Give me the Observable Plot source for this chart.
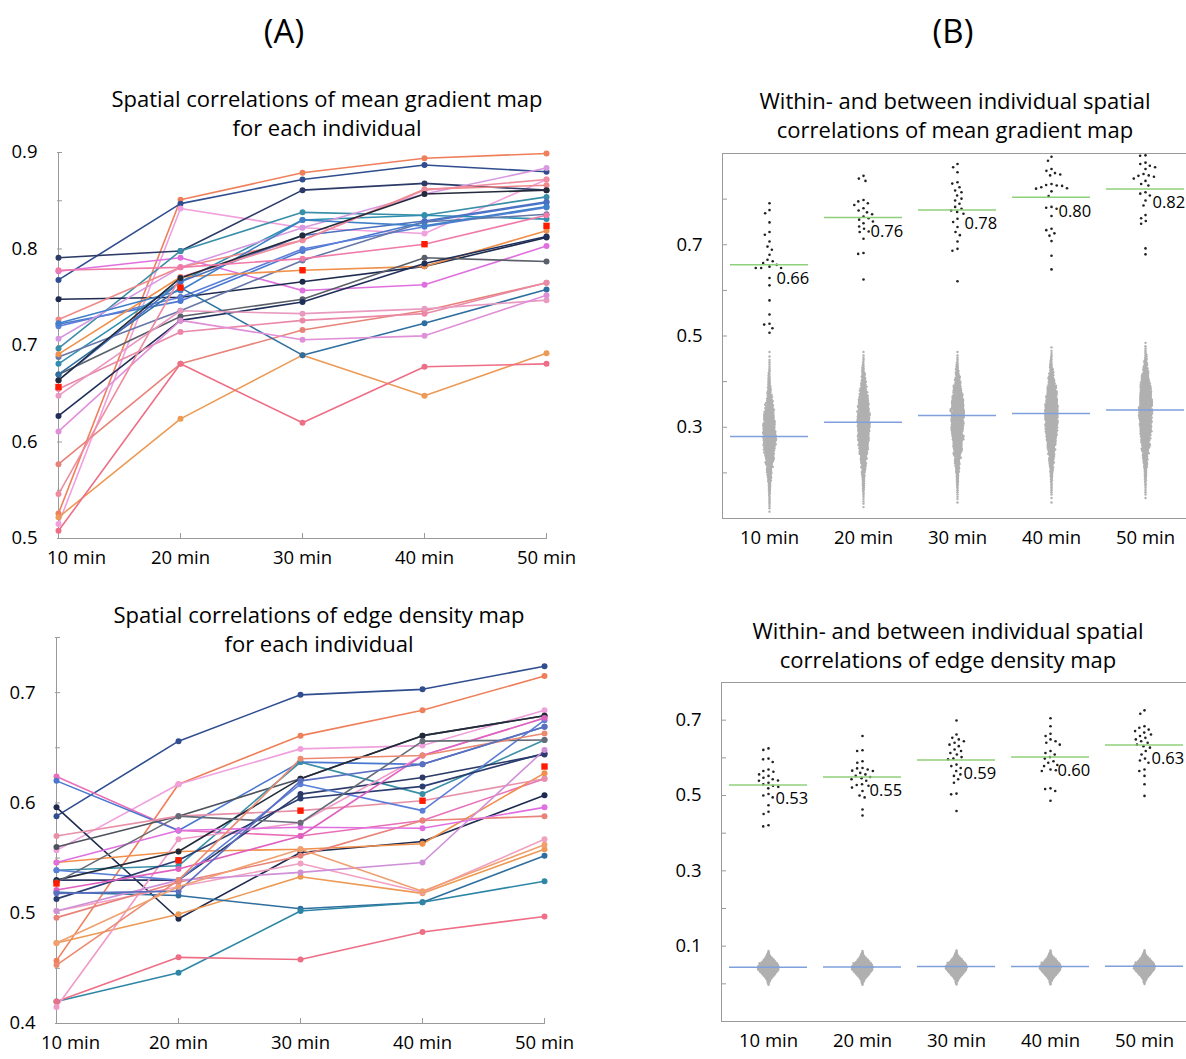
<!DOCTYPE html>
<html><head><meta charset="utf-8">
<script src="https://cdn.jsdelivr.net/npm/d3@7"></script>
<script src="https://cdn.jsdelivr.net/npm/@observablehq/plot@0.6"></script>
<style>
html,body{margin:0;padding:0;background:#fff;overflow:hidden;width:1186px;height:1059px}
#root{position:relative;width:1186px;height:1059px;overflow:hidden;font-family:"Open Sans",sans-serif;background:#fff}
.t{position:absolute;transform:translate(-50%,-50%);white-space:nowrap;color:#000;font-size:22px;line-height:1}
.p{position:absolute}
.p svg{max-width:none !important}
</style></head><body><div id="root"></div>
<script>
// ---------- data ----------
const times = ["10 min","20 min","30 min","40 min","50 min"];

// (A) top: spatial correlations of mean gradient map, per individual
const gradSeries = [
  [0.526,0.851,0.879,0.894,0.899],[0.768,0.847,0.872,0.887,0.880],[0.515,0.842,0.822,0.816,0.872],
  [0.791,0.798,0.861,0.868,0.861],[0.777,0.791,0.757,0.763,0.803],[0.697,0.798,0.838,0.835,0.854],
  [0.748,0.750,0.766,0.782,0.812],[0.722,0.746,0.798,0.828,0.848],[0.720,0.750,0.800,0.823,0.843],
  [0.681,0.766,0.830,0.835,0.831],[0.688,0.736,0.788,0.828,0.836],[0.691,0.771,0.778,0.782,0.819],
  [0.670,0.730,0.748,0.791,0.787],[0.627,0.726,0.745,0.785,0.813],[0.577,0.681,0.716,0.736,0.765],
  [0.522,0.624,0.690,0.648,0.692],[0.508,0.681,0.620,0.678,0.681],[0.670,0.760,0.690,0.723,0.758],
  [0.655,0.714,0.726,0.733,0.765],[0.648,0.736,0.733,0.738,0.747],[0.611,0.726,0.706,0.710,0.752],
  [0.707,0.781,0.822,0.857,0.884],[0.727,0.781,0.809,0.862,0.866],[0.664,0.766,0.814,0.829,0.849],
  [0.723,0.757,0.830,0.824,0.844],[0.546,0.771,0.809,0.861,0.872],[0.664,0.770,0.814,0.857,0.861],
  [0.778,0.781,0.790,0.805,0.835]
];
const gradColors = ["#ef7f5a","#2f4d8f","#f0a0dc","#2b3a67","#e070e0","#3a8fa8","#1e2b4f","#4a78d0","#5b7fd8",
  "#2e8fb0","#6677a8","#f0904a","#5a5f6a","#1f2f5a","#e8837a","#ec9a55","#ee6e86","#2f6f9f","#ea88a8",
  "#e89ac0","#e090d8","#d898e0","#f08a8a","#4b6fc0","#3f80c8","#f08ca0","#222a3a","#f07aa8"];
const gradMeans = [0.657,0.760,0.778,0.805,0.824];
const gradTicks = [0.5,0.6,0.7,0.8,0.9];
const gradMinorTicks = [0.5,0.55,0.6,0.65,0.7,0.75,0.8,0.85,0.9];

// (A) bottom: spatial correlations of edge density map, per individual
const edgeSeries = [
  [0.588,0.656,0.698,0.703,0.724],[0.457,0.617,0.661,0.684,0.715],[0.557,0.617,0.649,0.652,0.684],
  [0.624,0.575,0.570,0.584,0.622],[0.620,0.575,0.637,0.635,0.669],[0.596,0.495,0.555,0.565,0.607],
  [0.560,0.588,0.622,0.661,0.679],[0.546,0.556,0.558,0.563,0.627],[0.473,0.499,0.533,0.518,0.558],
  [0.539,0.543,0.637,0.608,0.657],[0.530,0.530,0.608,0.623,0.644],[0.519,0.516,0.504,0.510,0.552],
  [0.420,0.446,0.502,0.510,0.529],[0.420,0.460,0.458,0.483,0.497],[0.415,0.567,0.582,0.643,0.677],
  [0.502,0.524,0.545,0.519,0.567],[0.496,0.528,0.552,0.584,0.588],[0.570,0.588,0.593,0.602,0.622],
  [0.539,0.530,0.617,0.593,0.675],[0.513,0.548,0.604,0.615,0.645],[0.530,0.556,0.622,0.661,0.679],
  [0.546,0.575,0.578,0.577,0.596],[0.521,0.540,0.570,0.643,0.677],[0.528,0.588,0.582,0.656,0.657],
  [0.502,0.530,0.537,0.546,0.648],[0.453,0.530,0.640,0.643,0.663],[0.518,0.520,0.620,0.635,0.669],
  [0.473,0.524,0.558,0.520,0.562]
];
const edgeColors = ["#2f4d8f","#ef7f5a","#f0a0dc","#e970b8","#4a78d0","#1e2b4f","#4d525c","#f0904a","#ec9a55",
  "#3a8fa8","#2b3a67","#2f6f9f","#2e86a6","#ee6e86","#f09ac8","#f0a0c0","#e8837a","#e890a8","#5b7fd8",
  "#2a3c70","#222a3a","#e070e0","#e060c0","#666b78","#d090d8","#ec8a70","#5a6fc0","#f0a070"];
const edgeMeans = [0.527,0.548,0.593,0.602,0.633];
const edgeTicks = [0.4,0.5,0.6,0.7];
const edgeMinorTicks = [0.4,0.45,0.5,0.55,0.6,0.65,0.7,0.75];

// (B) top: within-individual values (mean gradient map)
const gradWithin = [
  [0.791,0.776,0.769,0.749,0.728,0.722,0.707,0.696,0.689,0.678,0.667,0.664,0.660,0.656,0.652,0.649,0.649,0.649,0.627,0.611,0.578,0.547,0.527,0.525,0.517,0.507],
  [0.851,0.845,0.840,0.798,0.795,0.791,0.787,0.780,0.775,0.771,0.767,0.762,0.758,0.755,0.751,0.747,0.740,0.735,0.729,0.728,0.713,0.682,0.680,0.624],
  [0.877,0.870,0.859,0.837,0.834,0.826,0.819,0.815,0.808,0.801,0.797,0.790,0.783,0.779,0.775,0.772,0.768,0.757,0.750,0.739,0.728,0.721,0.707,0.691,0.687,0.620],
  [0.893,0.884,0.866,0.862,0.857,0.854,0.852,0.833,0.831,0.830,0.829,0.826,0.824,0.823,0.817,0.807,0.783,0.781,0.779,0.763,0.735,0.732,0.725,0.720,0.708,0.676,0.646],
  [0.896,0.895,0.880,0.877,0.873,0.870,0.866,0.855,0.852,0.851,0.849,0.845,0.840,0.833,0.830,0.815,0.812,0.808,0.797,0.786,0.765,0.758,0.752,0.746,0.692,0.679]
];
const gradWithinMean = [0.656,0.760,0.776,0.804,0.822];
const gradWithinLabel = ["0.66","0.76","0.78","0.80","0.82"];
// between-individual values, as counts per 0.01 bin starting at gradBetweenStart
const gradBetweenStart = [0.11,0.12,0.13,0.13,0.14];
const gradBetweenCounts = [
  [1,2,3,3,4,5,6,8,10,12,14,17,20,23,26,28,30,30,29,28,26,24,21,18,15,12,10,8,6,5,4,3,2,2,1,1],
  [1,2,2,3,4,5,6,7,9,11,13,15,18,21,23,25,26,27,28,28,27,26,25,23,20,17,14,12,10,8,6,4,3,2,1],
  [1,2,2,3,4,5,6,8,10,12,14,17,20,22,24,26,27,28,29,30,30,29,27,24,21,18,15,12,9,7,5,3,2,1],
  [1,1,2,3,3,4,6,7,9,11,13,16,18,21,23,25,27,28,29,30,30,30,28,26,23,20,17,14,11,8,6,4,3,2,1],
  [1,2,2,3,4,5,6,8,10,12,14,17,19,22,24,26,27,28,29,30,30,30,29,27,24,21,18,15,12,9,7,5,3,2,1]
];
const gradBetweenMean = [0.280,0.311,0.326,0.330,0.338];
const gradRightTicks = [0.3,0.5,0.7];
const gradRightMinor = [0.2,0.3,0.4,0.5,0.6,0.7,0.8];

// (B) bottom: within-individual values (edge density map)
const edgeWithin = [
  [0.625,0.621,0.598,0.596,0.589,0.569,0.565,0.563,0.556,0.552,0.547,0.543,0.540,0.539,0.534,0.530,0.526,0.523,0.519,0.504,0.500,0.495,0.474,0.457,0.451,0.421,0.418],
  [0.658,0.620,0.618,0.591,0.587,0.573,0.572,0.569,0.566,0.565,0.560,0.556,0.552,0.549,0.546,0.543,0.539,0.530,0.528,0.526,0.521,0.512,0.500,0.495,0.463,0.447],
  [0.699,0.662,0.653,0.649,0.644,0.640,0.635,0.631,0.622,0.618,0.613,0.609,0.602,0.598,0.596,0.582,0.578,0.573,0.565,0.556,0.552,0.543,0.534,0.505,0.503,0.459],
  [0.705,0.684,0.664,0.658,0.649,0.644,0.640,0.635,0.618,0.613,0.609,0.602,0.598,0.591,0.587,0.581,0.578,0.569,0.567,0.565,0.519,0.517,0.512,0.486],
  [0.726,0.717,0.684,0.680,0.675,0.671,0.667,0.662,0.658,0.653,0.649,0.644,0.640,0.635,0.631,0.627,0.618,0.609,0.598,0.593,0.587,0.569,0.565,0.552,0.530,0.499]
];
const edgeWithinMean = [0.528,0.549,0.594,0.602,0.634];
const edgeWithinLabel = ["0.53","0.55","0.59","0.60","0.63"];
// between-individual values, counts per 0.005 bin starting at edgeBetweenStart
const edgeBetweenStart = [-0.005,-0.005,-0.004,-0.004,-0.003];
const edgeBetweenCounts = [
  [1,3,6,10,16,24,32,40,46,48,46,40,32,24,16,10,6,3,1],
  [1,3,6,10,16,24,32,40,46,48,46,40,32,24,16,10,6,3,1],
  [1,3,6,10,16,24,32,40,46,48,46,40,32,24,16,10,6,3,1],
  [1,3,6,10,16,24,32,40,46,48,46,40,32,24,16,10,6,3,1],
  [1,3,6,10,16,24,32,40,46,48,46,40,32,24,16,10,6,3,1]
];
const edgeBetweenMean = [0.044,0.045,0.046,0.046,0.047];
const edgeRightTicks = [0.1,0.3,0.5,0.7];
const edgeRightMinor = [0.0,0.1,0.2,0.3,0.4,0.5,0.6,0.7];

// ---------- helpers ----------
const FONT = '"Open Sans", sans-serif';
const FS = 18.5;
const AXIS = "#9a9a9a";
const root = document.getElementById("root");

function place(node, left, top, width) {
  const d = document.createElement("div");
  d.className = "p"; d.style.left = left + "px"; d.style.top = top + "px"; d.style.width = width + "px";
  d.appendChild(node); root.appendChild(d);
}
function title(text, cx, cy, size) {
  const d = document.createElement("div");
  d.className = "t"; d.textContent = text;
  d.style.left = cx + "px"; d.style.top = cy + "px";
  if (size) d.style.fontSize = size + "px";
  root.appendChild(d);
}

function linePanel(o) {
  const table = o.series.flatMap((vals, i) => vals.map((v, j) => ({id: i, time: times[j], value: v, color: o.colors[i]})));
  const meanTable = o.means.map((v, j) => ({time: times[j], value: v}));
  return Plot.plot({
    width: o.width, height: o.height,
    marginLeft: o.ml, marginRight: o.mr, marginTop: o.mt, marginBottom: o.mb,
    style: {fontFamily: FONT, fontSize: FS + "px", color: "#000", background: "transparent"},
    x: {type: "point", domain: times, padding: 0, label: null},
    y: {domain: o.yDomain, label: null},
    color: {type: "identity"},
    marks: [
      Plot.ruleY([o.yDomain[0]], {stroke: AXIS}),
      Plot.ruleX([times[0]], {stroke: AXIS}),
      Plot.axisY(o.yMinor, {tickSize: -5, tickFormat: () => "", stroke: AXIS}),
      Plot.axisY(o.yTicks, {tickSize: 0, tickPadding: 20, tickFormat: ".1f", fill: "#000"}),
      Plot.axisX(times, {tickSize: -5, tickFormat: () => "", stroke: AXIS}),
      Plot.axisX(times.slice(1), {tickSize: 0, tickPadding: 12, fill: "#000"}),
      Plot.axisX([times[0]], {tickSize: 0, tickPadding: 12, dx: o.firstDx, fill: "#000"}),
      Plot.line(table, {x: "time", y: "value", z: "id", stroke: "color", strokeWidth: 1.6}),
      Plot.dot(table, {x: "time", y: "value", fill: "color", r: 3}),
      Plot.dot(meanTable, {x: "time", y: "value", symbol: "square", fill: "#ff1a00", r: 3.6})
    ]
  });
}

function expandBins(start, step, counts) {
  const out = [];
  counts.forEach((c, k) => { for (let i = 0; i < c; i++) out.push(start + step * (k + (i + 0.5) / c)); });
  return out;
}

function swarmPanel(o) {
  const within = o.within.flatMap((vals, j) => vals.map(v => ({time: times[j], value: v})));
  const between = o.betweenCounts.flatMap((counts, j) =>
    expandBins(o.betweenStart[j], o.step, counts).map(v => ({time: times[j], value: v})));
  const means = times.map((t, j) => ({time: t, w: o.withinMean[j], b: o.betweenMean[j], label: o.withinLabel[j]}));
  return Plot.plot({
    width: o.width, height: o.height,
    marginLeft: o.ml, marginRight: 0, marginTop: o.mt, marginBottom: o.mb,
    style: {fontFamily: FONT, fontSize: FS + "px", color: "#000", background: "transparent"},
    fx: {domain: times, padding: 0, label: null, tickSize: 0, tickPadding: 12, axis: "bottom"},
    x: {domain: [0, 1], axis: null},
    y: {domain: o.yDomain, label: null},
    marks: [
      Plot.ruleY(o.yDomain, {stroke: AXIS}),
      Plot.ruleX([0], {fx: () => times[0], stroke: AXIS}),
      Plot.axisY(o.yMinor, {tickSize: -5, tickFormat: () => "", stroke: AXIS}),
      Plot.axisY(o.yTicks, {tickSize: 0, tickPadding: 20, tickFormat: ".1f", fill: "#000"}),
      Plot.dot(between, Plot.dodgeX({anchor: "middle", padding: 0, r: o.rB}, {fx: "time", y: "value", r: 1.2, fill: "#b0b0b0"})),
      Plot.dot(within, Plot.dodgeX({anchor: "middle", padding: 1, r: 2.2}, {fx: "time", y: "value", r: 1.3, fill: "#222"})),
      Plot.ruleY(means, {fx: "time", y: "w", stroke: "#8fd07a", strokeWidth: 1.5, insetLeft: 8, insetRight: 8}),
      Plot.ruleY(means, {fx: "time", y: "b", stroke: "#7f9fdd", strokeWidth: 1.5, insetLeft: 8, insetRight: 8}),
      Plot.text(means, {fx: "time", y: "w", text: "label", textAnchor: "start", dx: 7, dy: 14, fontSize: 16.5, fill: "#000"})
    ]
  });
}

// ---------- panels ----------
place(linePanel({series: gradSeries, colors: gradColors, means: gradMeans, yDomain: [0.5, 0.9], yTicks: gradTicks, yMinor: gradMinorTicks,
  firstDx: 18, width: 582, height: 448, ml: 57, mr: 35, mt: 22, mb: 40}), 0, 130, 582);
place(linePanel({series: edgeSeries, colors: edgeColors, means: edgeMeans, yDomain: [0.4, 0.75], yTicks: edgeTicks, yMinor: edgeMinorTicks,
  firstDx: 14, width: 580, height: 439, ml: 55, mr: 35, mt: 17, mb: 36}), 0, 620, 580);
place(swarmPanel({within: gradWithin, withinMean: gradWithinMean, withinLabel: gradWithinLabel,
  betweenStart: gradBetweenStart, betweenCounts: gradBetweenCounts, betweenMean: gradBetweenMean, step: 0.01, rB: 0.7,
  yDomain: [0.1, 0.9], yTicks: gradRightTicks, yMinor: gradRightMinor, width: 532, height: 428, ml: 62, mt: 23, mb: 40}), 660, 130, 532);
place(swarmPanel({within: edgeWithin, withinMean: edgeWithinMean, withinLabel: edgeWithinLabel,
  betweenStart: edgeBetweenStart, betweenCounts: edgeBetweenCounts, betweenMean: edgeBetweenMean, step: 0.005, rB: 0.45,
  yDomain: [-0.1, 0.8], yTicks: edgeRightTicks, yMinor: edgeRightMinor, width: 532, height: 389, ml: 62, mt: 12, mb: 38}), 659, 670, 532);

// ---------- titles ----------
title("(A)", 284, 30, 33);
title("(B)", 953, 30, 33);
title("Spatial correlations of mean gradient map", 327, 98);
title("for each individual", 327, 127);
title("Spatial correlations of edge density map", 319, 614);
title("for each individual", 319, 643);
title("Within- and between individual spatial", 955, 100);
title("correlations of mean gradient map", 955, 129);
title("Within- and between individual spatial", 948, 630);
title("correlations of edge density map", 948, 659);
</script></body></html>
